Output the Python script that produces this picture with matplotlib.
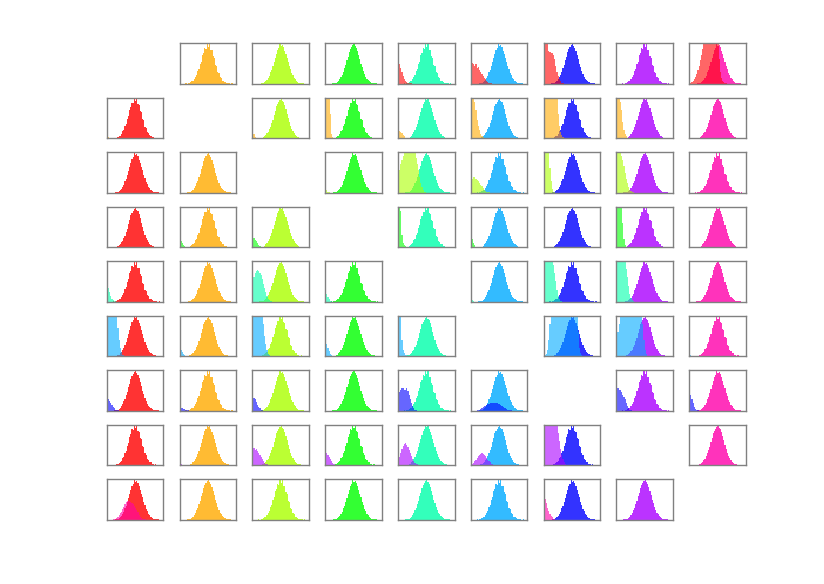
import matplotlib
matplotlib.use("Agg")
import matplotlib.pyplot as plt
from matplotlib.colors import hsv_to_rgb
import numpy as np

n = 9

# bin counts of the main (column) histograms, 48 bins across each panel
main_a = [0, 0, 0, 0, 0, 0, 1, 1, 2, 3, 5, 8, 12, 16, 23, 29, 38, 46, 58, 67, 79, 85, 90, 95,
          100, 92, 89, 81, 71, 61, 49, 41, 31, 24, 17, 13, 9, 6, 4, 3, 2, 1, 1, 1, 0, 0, 0, 0]
main_b = [0, 0, 0, 0, 0, 1, 0, 1, 2, 4, 6, 7, 11, 17, 21, 31, 36, 48, 55, 70, 76, 88, 86, 100,
          91, 97, 84, 83, 68, 64, 47, 44, 29, 26, 16, 14, 8, 7, 4, 3, 1, 2, 1, 0, 1, 0, 0, 0]
main_c = [0, 0, 0, 0, 0, 0, 0, 1, 1, 2, 4, 7, 10, 15, 20, 28, 35, 44, 54, 64, 74, 84, 89, 100,
          94, 96, 90, 82, 74, 64, 55, 44, 36, 27, 21, 15, 11, 7, 5, 3, 2, 2, 1, 1, 0, 0, 0, 0]
main_shapes = [main_a, main_b, main_c]

# overlay (row colour) bin counts, keyed by column, starting at the left edge
over_r0 = {4: [55, 50, 40, 30, 20, 12, 8, 5, 3, 2, 1, 1],
           5: [55, 52, 50, 45, 48, 40, 42, 35, 30, 25, 20, 15, 12, 8, 5, 3, 2, 1],
           6: [130, 130, 120, 110, 80, 78, 76, 75, 70, 60, 45, 30, 20, 12, 6, 3, 1],
           8: [1, 3, 5, 8, 12, 18, 25, 35, 45, 58, 70, 85, 100, 115, 130, 140, 150, 150, 150,
               150, 150, 145, 140, 130, 110, 60, 30, 15, 8, 4, 2, 1]}
over_r1 = {0: [8, 3, 1],
           2: [15, 10, 4, 2, 1],
           3: [130, 130, 120, 110, 60, 10, 3, 1],
           4: [20, 18, 15, 12, 8, 5, 2, 1],
           5: [130, 125, 110, 90, 70, 45, 30, 20, 10, 5, 3, 1],
           6: [130, 130, 130, 130, 130, 130, 130, 130, 130, 130, 120, 100, 60, 30, 15, 8, 3, 1],
           7: [130, 120, 110, 90, 70, 40, 20, 10, 5, 2, 1]}
over_r2 = {3: [10, 6, 3, 1],
           4: [40, 55, 70, 80, 90, 100, 110, 120, 125, 130, 130, 125, 120, 110, 100, 85, 70,
               55, 40, 25, 15, 8, 3, 1],
           5: [30, 35, 40, 38, 35, 32, 28, 24, 20, 16, 12, 8, 5, 3, 2, 1],
           6: [130, 130, 130, 120, 100, 60, 30, 10, 3, 1],
           7: [120, 115, 110, 100, 90, 80, 65, 50, 35, 25, 15, 8, 4, 2, 1]}
over_r3 = {1: [20, 15, 10, 6, 3, 1],
           2: [25, 22, 18, 15, 10, 6, 3, 1],
           4: [130, 120, 90, 30, 10, 5, 3, 2, 1],
           5: [35, 20, 10, 5, 2, 1],
           7: [130, 130, 125, 120, 100, 60, 20, 5, 1]}
over_r4 = {0: [45, 35, 25, 15, 8, 4, 2, 1],
           2: [50, 60, 70, 75, 78, 76, 72, 65, 55, 45, 35, 25, 15, 8, 4, 2, 1],
           3: [30, 20, 12, 6, 3, 1],
           5: [8, 4, 1],
           6: [100, 120, 130, 130, 130, 125, 120, 110, 90, 70, 50, 30, 15, 6, 2, 1],
           7: [130, 130, 130, 130, 130, 125, 115, 100, 80, 60, 40, 20, 10, 4, 1]}
over_r5 = {0: [130, 130, 130, 130, 130, 130, 130, 120, 100, 70, 40, 20, 10, 4, 2, 1],
           1: [20, 15, 10, 6, 3, 1],
           2: [130, 130, 130, 130, 130, 130, 130, 120, 100, 80, 50, 30, 15, 6, 2, 1],
           3: [40, 30, 20, 12, 6, 3, 1],
           4: [130, 120, 100, 40, 15, 8, 4, 2, 1],
           6: [0, 2, 5, 15, 40, 80, 120, 150, 150, 150, 150, 150, 150, 150, 150, 150, 150, 150,
               150, 150, 150, 150, 150, 150, 150, 150, 150, 140, 120, 60, 20, 8, 3, 1],
           7: [40, 60, 80, 100, 120, 130, 140, 150, 150, 150, 150, 150, 150, 150, 150, 150,
               150, 150, 150, 140, 130, 110, 80, 40, 15, 5, 1],
           8: [6, 3, 1]}
over_r6 = {0: [30, 28, 25, 20, 15, 10, 6, 3, 2, 1],
           1: [8, 7, 6, 5, 4, 3, 2, 1],
           2: [35, 32, 28, 22, 15, 10, 6, 3, 1],
           4: [40, 45, 50, 55, 55, 52, 50, 55, 48, 40, 30, 20, 12, 6, 3, 1],
           5: [0, 0, 0, 0, 0, 1, 2, 3, 5, 7, 9, 11, 13, 15, 16, 17, 18, 19, 20, 20, 20, 19, 18,
               17, 16, 14, 12, 10, 8, 6, 4, 3, 2, 1, 1],
           7: [55, 55, 52, 50, 45, 40, 35, 28, 20, 12, 6, 3, 1],
           8: [45, 38, 28, 18, 10, 5, 2, 1]}
over_r7 = {1: [5, 3, 1],
           2: [45, 42, 38, 40, 35, 30, 25, 20, 15, 10, 6, 3, 2, 1],
           3: [35, 30, 25, 20, 15, 10, 6, 3, 1],
           4: [10, 20, 30, 40, 48, 52, 55, 50, 45, 38, 30, 22, 15, 10, 6, 3, 2, 1],
           5: [2, 4, 6, 10, 14, 18, 22, 26, 28, 30, 28, 26, 22, 18, 14, 10, 7, 4, 2, 1],
           6: [130, 130, 130, 130, 130, 130, 130, 130, 130, 130, 120, 100, 80, 60, 40, 25,
               15, 8, 3, 1]}
over_r8 = {0: [0, 0, 0, 0, 0, 1, 2, 3, 5, 8, 12, 16, 20, 26, 32, 38, 43, 45, 47, 46, 44, 42,
               38, 34, 30, 24, 18, 12, 8, 5, 3, 2, 1],
           6: [60, 50, 40, 30, 22, 15, 10, 6, 3, 1]}
overlays = [over_r0, over_r1, over_r2, over_r3, over_r4, over_r5, over_r6, over_r7, over_r8]

colors = [hsv_to_rgb((k / n, 1.0, 1.0)) for k in range(n)]

fig, axes = plt.subplots(n, n, figsize=(8.24, 5.84), dpi=100)
fig.subplots_adjust(left=0.1295, right=0.905, top=0.926, bottom=0.110,
                    wspace=0.286, hspace=0.34)

nbins = len(main_a)
for i in range(n):
    for j in range(n):
        ax = axes[i, j]
        if i == j:
            ax.axis("off")
            continue
        main = main_shapes[(i + j) % 3]
        ax.bar(np.arange(len(main)), main, width=1.0, align="edge",
               color=colors[j], alpha=0.8, linewidth=0)
        ov = overlays[i].get(j)
        if ov is not None:
            ax.bar(np.arange(len(ov)), ov, width=1.0, align="edge",
                   color=colors[i], alpha=0.6, linewidth=0)
        ax.set_xlim(0, nbins)
        ax.set_ylim(0, 100)
        ax.set_xticks([])
        ax.set_yticks([])
        for s in ax.spines.values():
            s.set_color("#808080")
            s.set_linewidth(1.0)

fig.savefig("out.png", dpi=100)
